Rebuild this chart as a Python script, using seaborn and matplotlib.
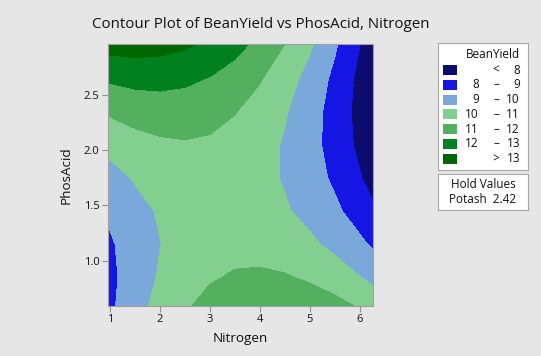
import matplotlib
matplotlib.use("Agg")
import matplotlib.pyplot as plt
import seaborn as sns
import numpy as np
from matplotlib.patches import Rectangle

# values (BeanYield on a Nitrogen x PhosAcid grid)
nitrogen = [0.95, 1.5, 2.0, 2.5, 3.0, 3.5, 4.0, 4.5, 5.0, 5.5, 6.0, 6.3]
phosacid = [0.55, 0.85, 1.15, 1.45, 1.75, 2.05, 2.35, 2.65, 3.0]
bean_yield = [
    [8.74, 9.66, 10.36, 10.94, 11.36, 11.64, 11.79, 11.80, 11.68, 11.42, 11.04, 10.76],
    [8.69, 9.50, 10.09, 10.56, 10.90, 11.10, 11.15, 11.08, 10.86, 10.51, 10.03, 9.69],
    [8.81, 9.50, 9.98, 10.34, 10.58, 10.69, 10.65, 10.48, 10.18, 9.75, 9.20, 8.81],
    [9.12, 9.70, 10.09, 10.35, 10.49, 10.49, 10.36, 10.10, 9.72, 9.20, 8.55, 8.10],
    [9.60, 10.08, 10.38, 10.55, 10.58, 10.49, 10.27, 9.92, 9.44, 8.83, 8.08, 7.58],
    [10.27, 10.64, 10.84, 10.92, 10.86, 10.68, 10.36, 9.91, 9.34, 8.63, 7.79, 7.23],
    [11.11, 11.38, 11.49, 11.47, 11.32, 11.04, 10.63, 10.09, 9.42, 8.62, 7.69, 7.06],
    [12.14, 12.30, 12.32, 12.20, 11.96, 11.58, 11.08, 10.44, 9.68, 8.78, 7.76, 7.08],
    [13.56, 13.61, 13.51, 13.29, 12.93, 12.44, 11.83, 11.08, 10.21, 9.20, 8.07, 7.32],
]

levels = [0, 8, 9, 10, 11, 12, 13, 20]
level_colors = ["#0c0c6e", "#1616e4", "#7ba8da", "#82cf90", "#52b05e", "#00801e", "#006600"]
legend_low = ["", "8", "9", "10", "11", "12", ""]
legend_mid = ["<", "–", "–", "–", "–", "–", ">"]
legend_high = ["8", "9", "10", "11", "12", "13", "13"]

sns.set_style("white")
plt.rcParams["font.family"] = ["Open Sans", "DejaVu Sans"]

fig = plt.figure(figsize=(5.41, 3.56), dpi=100)
fig.patch.set_facecolor("#e6e6e6")

ax = fig.add_axes([108 / 541, 1 - 306 / 356, 265 / 541, 262 / 356])
palette = sns.color_palette(level_colors)
ax.contourf(nitrogen, phosacid, np.array(bean_yield), levels=levels, colors=palette)
ax.set_xlim(0.96, 6.27)
ax.set_ylim(0.59, 2.96)
ax.set_xticks([1, 2, 3, 4, 5, 6])
ax.set_yticks([1.0, 1.5, 2.0, 2.5])
ax.set_yticklabels(["1.0", "1.5", "2.0", "2.5"])
ax.tick_params(axis="both", which="both", direction="out", length=4, width=0.8,
               color="#909090", labelsize=8, labelcolor="#111111", pad=2,
               bottom=True, left=True)
for s in ax.spines.values():
    s.set_color("#a0a0a0")
    s.set_linewidth(0.8)
ax.set_xlabel("Nitrogen", fontsize=9.7, color="#111111", labelpad=5)
ax.set_ylabel("PhosAcid", fontsize=9.7, color="#111111", labelpad=8)

fig.text(261 / 541, 1 - 25 / 356, "Contour Plot of BeanYield vs PhosAcid, Nitrogen",
         ha="center", va="center", fontsize=10.9, color="#111111")

# legend box
lg = fig.add_axes([438 / 541, 1 - 170 / 356, 90 / 541, 127 / 356])
lg.set_xlim(0, 90)
lg.set_ylim(127, 0)
lg.set_xticks([])
lg.set_yticks([])
lg.set_facecolor("white")
for s in lg.spines.values():
    s.set_color("#a8a8a8")
    s.set_linewidth(0.8)
lg.text(82, 11, "BeanYield", ha="right", va="center", fontsize=8.5, color="#111111")
for i, c in enumerate(level_colors):
    yc = 27 + i * 14.8
    lg.add_patch(Rectangle((5, yc - 5), 14, 10, facecolor=c, edgecolor="none"))
    lg.text(41, yc, legend_low[i], ha="right", va="center", fontsize=8.5, color="#111111")
    lg.text(58, yc, legend_mid[i], ha="center", va="center", fontsize=8.5, color="#111111")
    lg.text(82, yc, legend_high[i], ha="right", va="center", fontsize=8.5, color="#111111")

# hold values box
hv = fig.add_axes([438 / 541, 1 - 210 / 356, 90 / 541, 36 / 356])
hv.set_xticks([])
hv.set_yticks([])
hv.set_facecolor("white")
for s in hv.spines.values():
    s.set_color("#a8a8a8")
    s.set_linewidth(0.8)
hv.text(0.5, 0.70, "Hold Values", ha="center", va="center", fontsize=8.5, color="#111111",
        transform=hv.transAxes)
hv.text(0.5, 0.30, "Potash  2.42", ha="center", va="center", fontsize=8.5, color="#111111",
        transform=hv.transAxes)

fig.savefig("out.png", dpi=100, facecolor=fig.get_facecolor())
